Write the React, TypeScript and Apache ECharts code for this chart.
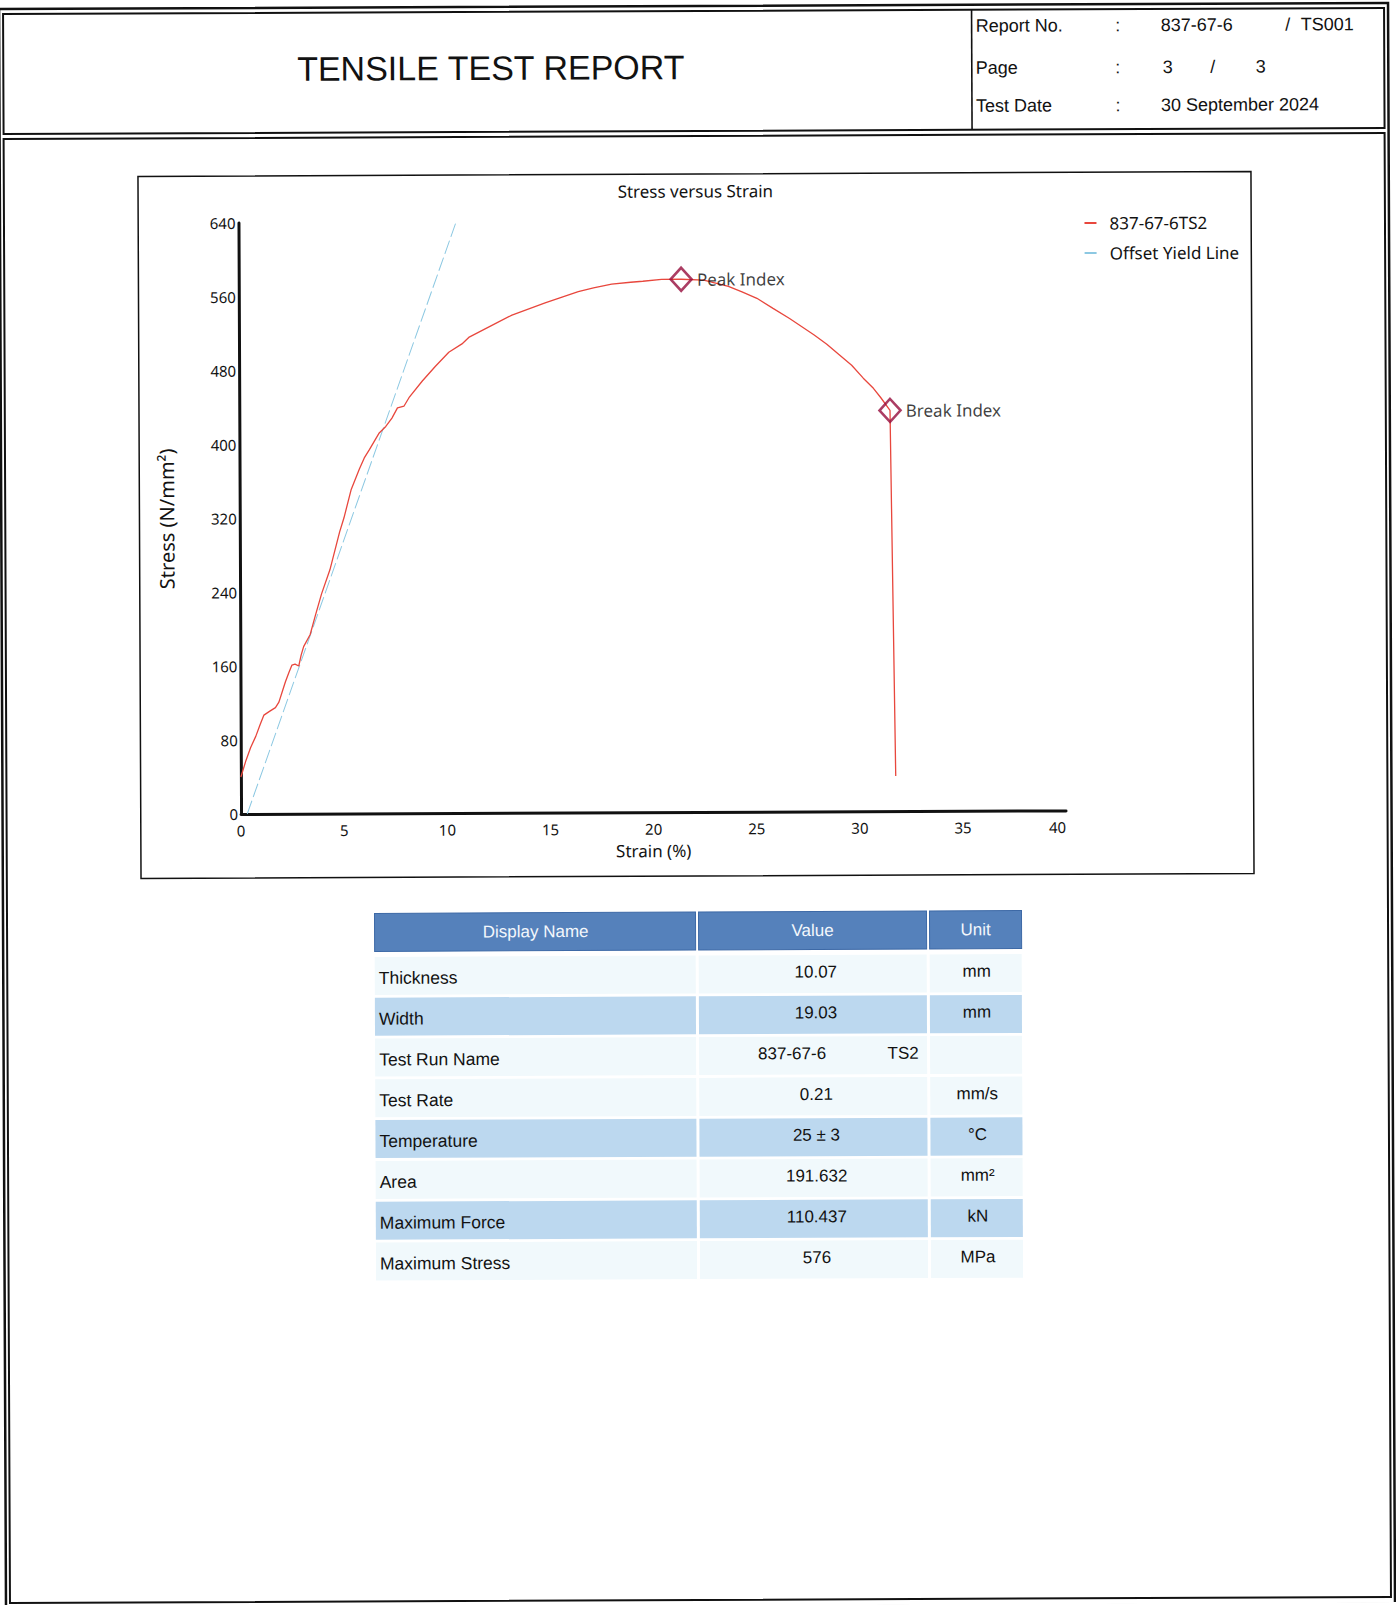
import React, { useEffect, useRef } from "react";
import * as echarts from "echarts";

const W = 1396;
const H = 1605;

// ---- Chart data ----
const strain = [
  0.0, 0.25, 0.48, 0.73, 0.95, 1.13, 1.4, 1.69, 1.86, 2.05, 2.18, 2.35, 2.5, 2.65, 2.83, 2.95, 3.07, 3.39, 3.65,
  3.95, 4.36, 4.84, 5.05, 5.41, 5.81, 6.05, 6.3, 6.78, 7.1, 7.4, 7.67, 7.99, 8.23, 8.88, 9.52, 10.17, 10.81, 11.14,
  12.1, 13.24, 14.85, 16.46, 17.2, 18.08, 19.0, 19.59, 20.5, 21.45, 22.55, 23.74, 24.4, 25.12, 25.9, 26.7, 27.89,
  28.5, 29.07, 29.7, 30.26, 30.75, 31.1, 31.55, 31.75,
];
const stress = [
  40, 58, 72, 84, 97, 107, 111, 115, 121, 134, 143, 153, 161, 162, 160, 172, 181, 194, 215, 238, 264, 305, 320,
  351, 373, 385, 394, 412, 419, 428, 439, 441, 450, 468, 484, 499, 508, 515, 526, 539, 552, 564, 568, 572, 574,
  575, 577, 577, 576, 569, 563, 556, 545, 534, 516, 506, 495, 483, 469, 458, 448, 434, 38,
];
const yieldStrain = [0.3, 10.55];
const yieldStress = [0, 640];

const markerNames = ["Peak Index", "Break Index"];
const markerStrain = [21.45, 31.55];
const markerStress = [577, 434];

const seriesNames = ["837-67-6TS2", "Offset Yield Line"];
const chartTitle = "Stress versus Strain";
const xName = "Strain (%)";
const yName = "Stress (N/mm²)";
const xMin = 0, xMax = 40, xStep = 5;
const yMin = 0, yMax = 640, yStep = 80;

// ---- Report header ----
const reportTitle = "TENSILE TEST REPORT";
const headerLabels = ["Report No.", "Page", "Test Date"];
const headerValues = [["837-67-6", "/", "TS001"], ["3", "/", "3"], ["30 September 2024"]];

// ---- Table ----
const tableHeaders = ["Display Name", "Value", "Unit"];
const tableNames = ["Thickness", "Width", "Test Run Name", "Test Rate", "Temperature", "Area", "Maximum Force", "Maximum Stress"];
const tableValues = [["10.07"], ["19.03"], ["837-67-6", "TS2"], ["0.21"], ["25 ± 3"], ["191.632"], ["110.437"], ["576"]];
const tableUnits = ["mm", "mm", "", "mm/s", "°C", "mm²", "kN", "MPa"];
const bandedRows = [1, 4, 6];

const ARIAL = '"Liberation Sans", Arial, sans-serif';
const SANS = '"Noto Sans", "Open Sans", sans-serif';
const INK = "#121212";

function txt(x: number, y: number, text: string, size: number, align: string, fill = INK, family = ARIAL) {
  return {
    type: "text",
    silent: true,
    x,
    y,
    style: {
      text,
      fill,
      fontSize: size,
      fontFamily: family,
      align,
      textAlign: align,
      verticalAlign: "middle",
      textVerticalAlign: "middle",
    },
  };
}

function rect(x: number, y: number, w: number, h: number, style: any) {
  return { type: "rect", silent: true, shape: { x, y, width: w, height: h }, style };
}

function buildGraphic() {
  const g: any[] = [];
  // page frames
  g.push(rect(2.5, 6, 1389, 1601, { fill: "none", stroke: "#111", lineWidth: 2.5 }));
  g.push(rect(6.5, 11, 1381, 120, { fill: "none", stroke: "#111", lineWidth: 2 }));
  g.push(rect(6.5, 136, 1381, 1464, { fill: "none", stroke: "#111", lineWidth: 2 }));
  g.push({ type: "line", silent: true, shape: { x1: 975, y1: 11, x2: 975, y2: 131 }, style: { stroke: "#111", lineWidth: 1.6 } });
  // chart frame
  g.push(rect(140.7, 174, 1113, 702, { fill: "none", stroke: "#111", lineWidth: 1.5 }));

  // header
  g.push(txt(494, 67, reportTitle, 34, "center"));
  const rowY = [27, 69, 107];
  headerLabels.forEach((lab, i) => {
    g.push(txt(979, rowY[i], lab, 18, "left"));
    g.push(txt(1121, rowY[i], ":", 18, "center"));
  });
  const r0 = headerValues[0];
  g.push(txt(1164, rowY[0], r0[0], 18, "left"));
  g.push(txt(1291, rowY[0], r0[1], 18, "center"));
  g.push(txt(1304, rowY[0], r0[2], 18, "left"));
  const r1 = headerValues[1];
  g.push(txt(1171, rowY[1], r1[0], 18, "center"));
  g.push(txt(1216, rowY[1], r1[1], 18, "center"));
  g.push(txt(1264, rowY[1], r1[2], 18, "center"));
  g.push(txt(1164, rowY[2], headerValues[2][0], 18, "left"));

  // table
  const colX = [374, 698, 929];
  const colW = [321, 228, 92];
  const headTop = 912;
  const headH = 38;
  colX.forEach((cx, c) => {
    g.push(rect(cx, headTop, colW[c], headH, { fill: "#5581bb", stroke: "#3d69a6", lineWidth: 1 }));
  });
  const headCenters = [535, 812, 975];
  tableHeaders.forEach((h, c) => g.push(txt(headCenters[c], headTop + headH / 2, h, 17, "center", "#f3f7fc")));

  const rowTop0 = 955.5;
  const pitch = 40.8;
  const rowH = 38;
  tableNames.forEach((name, i) => {
    const top = rowTop0 + i * pitch;
    const banded = bandedRows.indexOf(i) >= 0;
    colX.forEach((cx, c) => {
      g.push(rect(cx, top, colW[c], rowH, { fill: banded ? "#bcd8ef" : "#f1f9fc" }));
    });
    const cy = top + rowH / 2;
    g.push(txt(378, cy + 2, name, 17.5, "left"));
    const v = tableValues[i];
    if (v.length === 1) {
      g.push(txt(815, cy - 2, v[0], 17, "center"));
    } else {
      g.push(txt(791, cy - 2, v[0], 17, "center"));
      g.push(txt(902, cy - 2, v[1], 17, "center"));
    }
    if (tableUnits[i]) g.push(txt(976, cy - 2, tableUnits[i], 17, "center"));
  });
  return g;
}

export default function App() {
  const ref = useRef<HTMLDivElement>(null);
  useEffect(() => {
    if (!ref.current) return;
    const chart = echarts.init(ref.current, null, { renderer: "svg", width: W, height: H });
    const option: any = {
      animation: false,
      backgroundColor: "#ffffff",
      textStyle: { fontFamily: SANS },
      title: {
        text: chartTitle,
        left: "center",
        top: 181,
        padding: 0,
        textStyle: { fontSize: 17, fontWeight: "normal", color: INK, fontFamily: SANS, lineHeight: 20 },
      },
      legend: {
        orient: "vertical",
        left: 1087,
        top: 214.7,
        padding: 0,
        itemGap: 10,
        itemWidth: 12,
        itemHeight: 2,
        selectedMode: false,
        data: seriesNames.map((n) => ({ name: n, icon: "rect" })),
        textStyle: { fontSize: 17, color: INK, fontFamily: SANS, lineHeight: 20, padding: [0, 0, 0, 8] },
      },
      grid: { left: 241, top: 221, width: 825, height: 591, containLabel: false },
      xAxis: {
        type: "value",
        min: xMin,
        max: xMax,
        interval: xStep,
        name: xName,
        nameLocation: "middle",
        nameGap: 30,
        nameTextStyle: { fontSize: 17, color: INK, fontFamily: SANS },
        axisLine: { show: true, onZero: false, lineStyle: { color: "#111", width: 3 } },
        axisTick: { show: false },
        splitLine: { show: false },
        axisLabel: { fontSize: 15, color: INK, margin: 9, fontFamily: SANS, alignMaxLabel: "right" },
      },
      yAxis: {
        type: "value",
        min: yMin,
        max: yMax,
        interval: yStep,
        name: yName,
        nameLocation: "middle",
        nameRotate: 90,
        nameGap: 63,
        nameTextStyle: { fontSize: 20, color: INK, fontFamily: SANS },
        axisLine: { show: true, onZero: false, lineStyle: { color: "#111", width: 3 } },
        axisTick: { show: false },
        splitLine: { show: false },
        axisLabel: { fontSize: 15, color: INK, margin: 3, fontFamily: SANS },
      },
      series: [
        {
          name: seriesNames[0],
          type: "line",
          data: strain.map((s, i) => [s, stress[i]]),
          symbol: "none",
          showSymbol: false,
          color: "#e8473d",
          lineStyle: { color: "#e8473d", width: 1.3 },
          z: 3,
        },
        {
          name: seriesNames[1],
          type: "line",
          data: yieldStrain.map((s, i) => [s, yieldStress[i]]),
          symbol: "none",
          showSymbol: false,
          color: "#8cc8e2",
          lineStyle: { color: "#8cc8e2", width: 1, type: [14, 4] },
          z: 2,
        },
        {
          name: "markers",
          type: "scatter",
          data: markerStrain.map((s, i) => ({ value: [s, markerStress[i]], name: markerNames[i] })),
          symbol: "diamond",
          symbolSize: [21, 23],
          itemStyle: { color: "rgba(0,0,0,0)", borderColor: "#960d3c", borderWidth: 2.6 },
          label: { show: true, position: "right", distance: 4, formatter: "{b}", fontSize: 17, color: "#0c0c0c", fontFamily: SANS },
          z: 5,
        },
      ],
      graphic: { elements: buildGraphic() },
    };
    chart.setOption(option);
    return () => chart.dispose();
  }, []);

  return (
    <div style={{ position: "fixed", left: 0, top: 0, width: W, height: H, overflow: "hidden", background: "#fff" }}>
      <div
        ref={ref}
        style={{
          position: "absolute",
          left: 0,
          top: 0,
          width: W,
          height: H,
          transform: "rotate(-0.25deg)",
          transformOrigin: "698px 802px",
        }}
      />
    </div>
  );
}
